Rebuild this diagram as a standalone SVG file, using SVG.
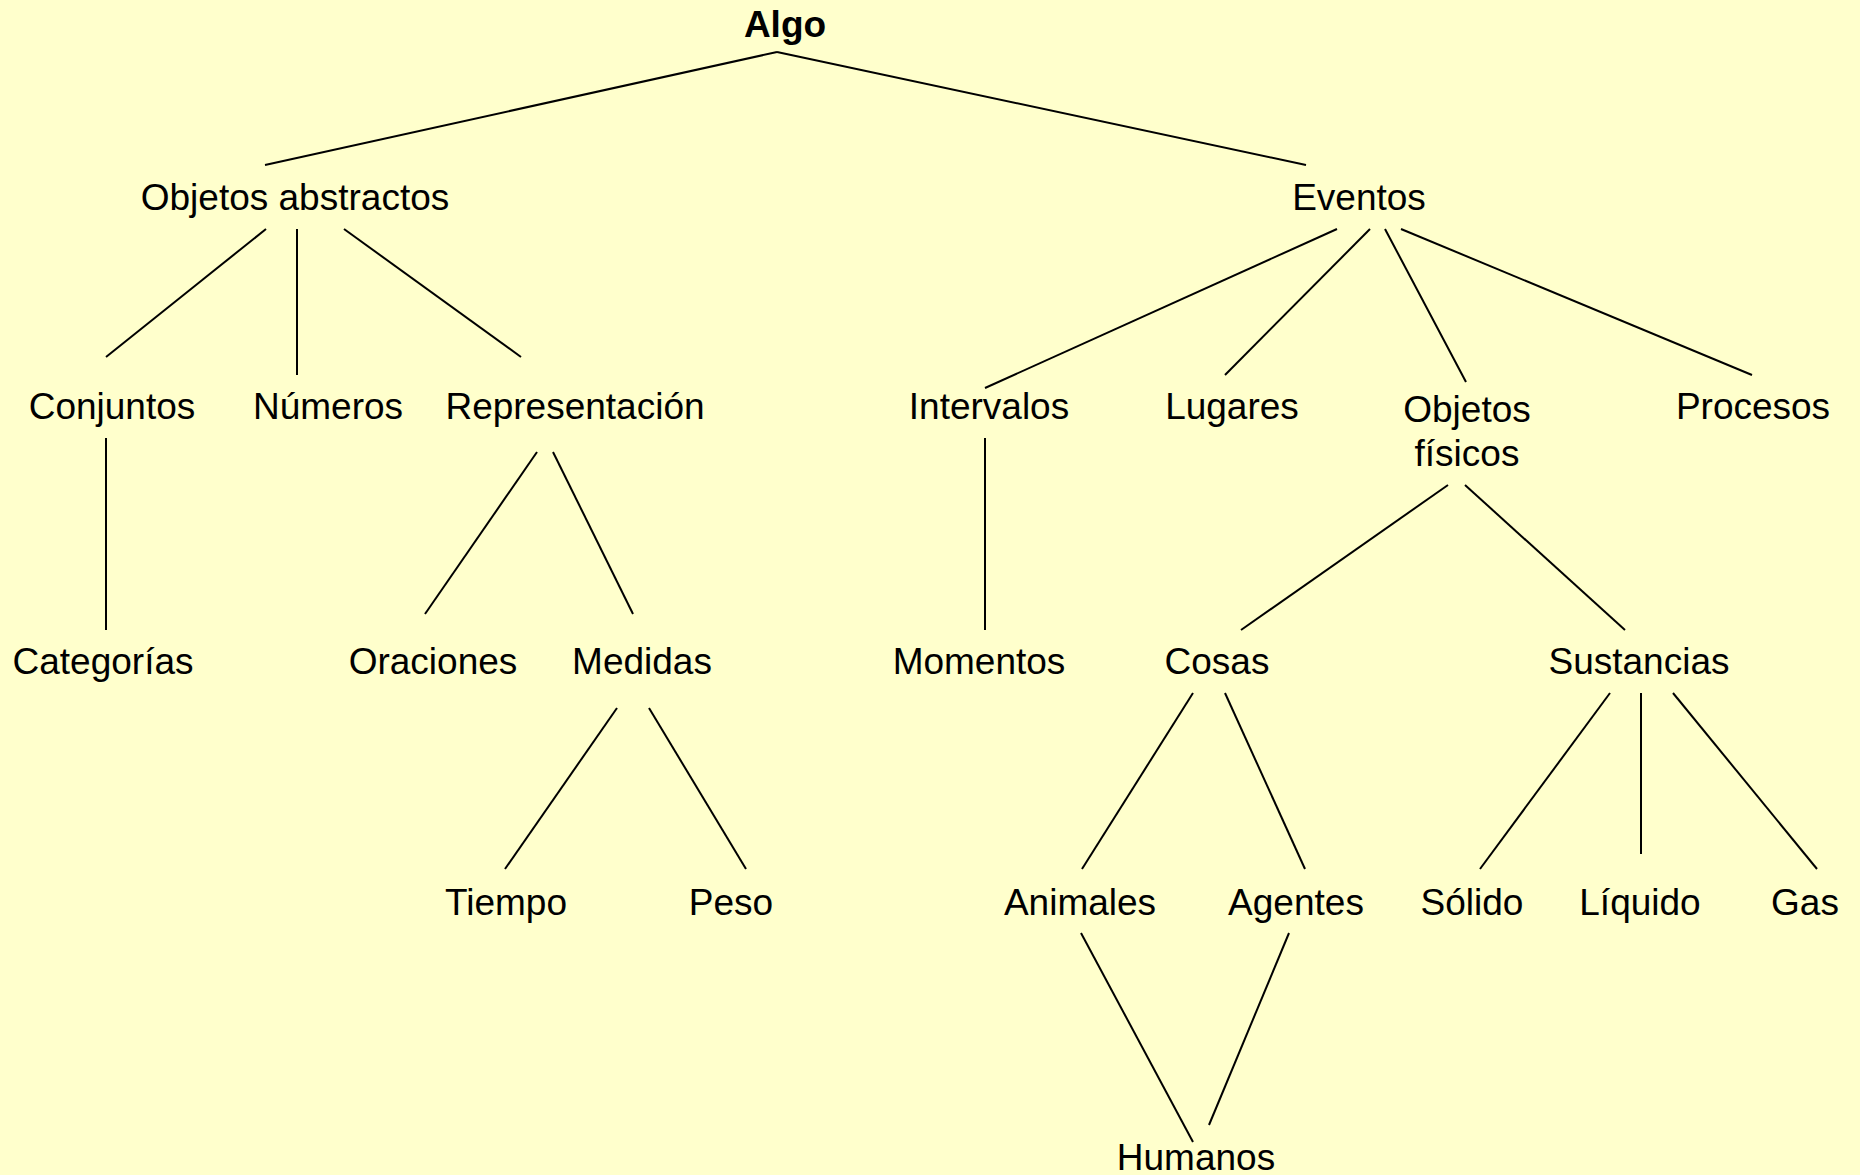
<svg xmlns="http://www.w3.org/2000/svg" width="1860" height="1175" viewBox="0 0 1860 1175">
<style>
  text { font-family: "Liberation Sans", Arial, sans-serif; font-size: 37px; fill: #000; text-anchor: middle; }
  .root { font-weight: bold; }
  #edges line { stroke: #000; stroke-width: 2; }
</style>
<rect width="1860" height="1175" fill="#FFFFCC"/>
<g id="edges">
  <line x1="777" y1="52" x2="265" y2="165"/>
  <line x1="777" y1="52" x2="1306" y2="165"/>
  <line x1="266" y1="229" x2="106" y2="357"/>
  <line x1="297" y1="229" x2="297" y2="375"/>
  <line x1="344" y1="229" x2="521" y2="357"/>
  <line x1="1337" y1="229" x2="985" y2="388"/>
  <line x1="1370" y1="229" x2="1225" y2="375"/>
  <line x1="1385" y1="229" x2="1466" y2="382"/>
  <line x1="1401" y1="229" x2="1752" y2="375"/>
  <line x1="106" y1="438" x2="106" y2="630"/>
  <line x1="537" y1="452" x2="425" y2="614"/>
  <line x1="553" y1="452" x2="633" y2="614"/>
  <line x1="985" y1="438" x2="985" y2="630"/>
  <line x1="1448" y1="485" x2="1241" y2="630"/>
  <line x1="1465" y1="485" x2="1625" y2="630"/>
  <line x1="617" y1="708" x2="505" y2="869"/>
  <line x1="649" y1="708" x2="746" y2="869"/>
  <line x1="1193" y1="693" x2="1082" y2="869"/>
  <line x1="1225" y1="693" x2="1305" y2="869"/>
  <line x1="1610" y1="693" x2="1480" y2="869"/>
  <line x1="1641" y1="693" x2="1641" y2="854"/>
  <line x1="1673" y1="693" x2="1817" y2="869"/>
  <line x1="1081" y1="933" x2="1193" y2="1142"/>
  <line x1="1289" y1="933" x2="1209" y2="1125"/>
</g>
<g id="algo"><text class="root" x="785" y="37">Algo</text></g>
<g id="objetos-abstractos"><text x="295" y="210">Objetos abstractos</text></g>
<g id="eventos"><text x="1359" y="210">Eventos</text></g>
<g id="conjuntos"><text x="112" y="419">Conjuntos</text></g>
<g id="numeros"><text x="328" y="419">Números</text></g>
<g id="representacion"><text x="575" y="419">Representación</text></g>
<g id="intervalos"><text x="989" y="419">Intervalos</text></g>
<g id="lugares"><text x="1232" y="419">Lugares</text></g>
<g id="objetos-fisicos"><text x="1467" y="422">Objetos</text><text x="1467" y="466">físicos</text></g>
<g id="procesos"><text x="1753" y="419">Procesos</text></g>
<g id="categorias"><text x="103" y="674">Categorías</text></g>
<g id="oraciones"><text x="433" y="674">Oraciones</text></g>
<g id="medidas"><text x="642" y="674">Medidas</text></g>
<g id="momentos"><text x="979" y="674">Momentos</text></g>
<g id="cosas"><text x="1217" y="674">Cosas</text></g>
<g id="sustancias"><text x="1639" y="674">Sustancias</text></g>
<g id="tiempo"><text x="506" y="915">Tiempo</text></g>
<g id="peso"><text x="731" y="915">Peso</text></g>
<g id="animales"><text x="1080" y="915">Animales</text></g>
<g id="agentes"><text x="1296" y="915">Agentes</text></g>
<g id="solido"><text x="1472" y="915">Sólido</text></g>
<g id="liquido"><text x="1640" y="915">Líquido</text></g>
<g id="gas"><text x="1805" y="915">Gas</text></g>
<g id="humanos"><text x="1196" y="1170">Humanos</text></g>
</svg>
